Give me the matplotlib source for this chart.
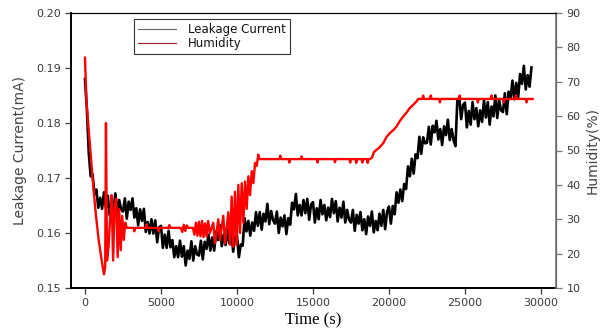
import numpy as np
import matplotlib
matplotlib.use("Agg")
import matplotlib.pyplot as plt
from matplotlib.lines import Line2D

# leakage current (mA), logged every 125 s
sample_step = 125
leak_current = [
    0.1880, 0.1825, 0.1745, 0.1703, 0.1707, 0.1670, 0.1679, 0.1646, 0.1664, 0.1644,
    0.1674, 0.1646, 0.1668, 0.1632, 0.1658, 0.1641, 0.1672, 0.1635, 0.1660, 0.1643,
    0.1639, 0.1663, 0.1626, 0.1657, 0.1642, 0.1663, 0.1628, 0.1645, 0.1614, 0.1643,
    0.1622, 0.1644, 0.1602, 0.1620, 0.1599, 0.1625, 0.1599, 0.1623, 0.1583, 0.1610,
    0.1613, 0.1573, 0.1597, 0.1573, 0.1604, 0.1574, 0.1587, 0.1556, 0.1576, 0.1556,
    0.1586, 0.1557, 0.1576, 0.1541, 0.1568, 0.1553, 0.1585, 0.1550, 0.1576, 0.1561,
    0.1559, 0.1586, 0.1552, 0.1584, 0.1571, 0.1597, 0.1568, 0.1592, 0.1568, 0.1603,
    0.1587, 0.1614, 0.1576, 0.1597, 0.1578, 0.1606, 0.1581, 0.1606, 0.1566, 0.1593,
    0.1596, 0.1556, 0.1579, 0.1577, 0.1627, 0.1603, 0.1622, 0.1595, 0.1619, 0.1604,
    0.1638, 0.1613, 0.1638, 0.1606, 0.1635, 0.1621, 0.1653, 0.1616, 0.1640, 0.1623,
    0.1617, 0.1639, 0.1600, 0.1628, 0.1612, 0.1632, 0.1598, 0.1627, 0.1615, 0.1655,
    0.1643, 0.1671, 0.1632, 0.1651, 0.1632, 0.1660, 0.1636, 0.1662, 0.1624, 0.1652,
    0.1656, 0.1619, 0.1645, 0.1625, 0.1660, 0.1634, 0.1651, 0.1623, 0.1646, 0.1629,
    0.1662, 0.1636, 0.1658, 0.1621, 0.1646, 0.1628, 0.1657, 0.1619, 0.1642, 0.1624,
    0.1619, 0.1642, 0.1604, 0.1633, 0.1617, 0.1638, 0.1605, 0.1625, 0.1598, 0.1630,
    0.1613, 0.1639, 0.1601, 0.1622, 0.1605, 0.1635, 0.1613, 0.1642, 0.1607, 0.1639,
    0.1648, 0.1617, 0.1649, 0.1634, 0.1674, 0.1655, 0.1679, 0.1658, 0.1689, 0.1680,
    0.1721, 0.1703, 0.1735, 0.1708, 0.1743, 0.1736, 0.1775, 0.1744, 0.1774, 0.1763,
    0.1764, 0.1793, 0.1761, 0.1795, 0.1783, 0.1804, 0.1770, 0.1789, 0.1760, 0.1794,
    0.1778, 0.1806, 0.1769, 0.1789, 0.1769, 0.1758, 0.1842, 0.1846, 0.1807, 0.1833,
    0.1837, 0.1792, 0.1822, 0.1797, 0.1838, 0.1807, 0.1827, 0.1794, 0.1823, 0.1802,
    0.1842, 0.1810, 0.1838, 0.1797, 0.1830, 0.1812, 0.1850, 0.1809, 0.1841, 0.1823,
    0.1820, 0.1854, 0.1816, 0.1857, 0.1844, 0.1877, 0.1843, 0.1873, 0.1846, 0.1889,
    0.1871, 0.1904, 0.1861, 0.1887, 0.1866, 0.1901,
]
leak_time = np.arange(len(leak_current)) * sample_step

# relative humidity (%)
hum_time = [
    0, 100, 300, 500, 700, 900, 1100, 1250, 1330, 1380, 1450, 1550, 1650, 1750,
    1850, 1950, 2050, 2150, 2250, 2350, 2450, 2550, 2650, 2750,
    3200, 3250, 3300, 4000, 4050, 4100, 4800, 4850, 4900, 5500, 5550, 5600,
    6300, 6400, 6500, 6600, 6700, 6800, 7100, 7200, 7300, 7400, 7500, 7600,
    7700, 7800, 7900, 8000, 8100, 8220, 8440, 8550, 8770, 8880, 9100, 9210,
    9430, 9540, 9650, 9760, 9870, 9980, 10090, 10200, 10310, 10420, 10530,
    10640, 10750, 10860, 10970, 11080, 11190, 11300, 11400, 11450,
    12800, 12850, 12900, 13400, 13450, 13500, 14200, 14250, 14300,
    15250, 15300, 15350, 16400, 16450, 16500, 17400, 17450, 17500, 17800,
    17850, 17900, 18200, 18250, 18300, 18550, 18600, 18650, 18750,
    18900, 19000, 19190, 19400, 19630, 19850, 20070, 20300, 20500, 20700,
    20940, 21150, 21380, 21600, 21820, 21930,
    22200, 22250, 22300, 22700, 22750, 22800, 23300, 23350, 23400, 24600,
    24650, 24700, 25800, 25850, 25900, 26700, 26750, 26800, 27500, 27550,
    27600, 28300, 28350, 28400, 29000, 29050, 29100, 29450,
]
hum_value = [
    77, 64, 53, 42, 32, 24, 18, 14, 16, 58, 18, 22, 30, 37,
    18, 34, 36, 19, 33, 21, 31, 24, 29, 27.5,
    27.5, 26.5, 27.5, 27.5, 28.5, 27.5, 27.5, 26.5, 27.5, 27.5, 28.3, 27.5,
    27.5, 26.3, 28.4, 26.6, 28.2, 27.5, 27.5, 25.5, 29.0, 25.2, 29.3, 25.0,
    29.5, 24.8, 28.8, 25.0, 29.5, 26, 29, 23, 30, 24, 31, 23,
    32, 22.6, 36.6, 22, 38, 22.6, 40, 26, 40.5, 29, 41,
    33, 42.5, 37, 44, 40.5, 46.4, 45.5, 48.8, 47.5,
    47.5, 48.5, 47.5, 47.5, 46.5, 47.5, 47.5, 48.3, 47.5,
    47.5, 46.5, 47.5, 47.5, 46.6, 47.5, 47.5, 46.5, 47.5, 47.5,
    46.4, 47.5, 47.5, 46.5, 47.5, 47.5, 46.4, 47.5, 47.5,
    48.0, 49.5, 50.2, 51, 52.2, 54, 55.1, 56, 57, 58.5,
    59.9, 61, 62.4, 63.3, 64.3, 65,
    65, 66, 65, 65, 66, 65, 65, 64, 65, 65,
    66, 65, 65, 64, 65, 65, 66, 65, 65, 64,
    65, 65, 66, 65, 65, 64, 65, 65,
]

x_ticks = [0, 5000, 10000, 15000, 20000, 25000, 30000]
left_ticks = [0.15, 0.16, 0.17, 0.18, 0.19, 0.20]
right_ticks = [10, 20, 30, 40, 50, 60, 70, 80, 90]

tick_col = "#3a3a3a"

fig = plt.figure(figsize=(6, 3.35), dpi=100)
ax = fig.add_axes([71 / 600, 47 / 335, 485 / 600, 275 / 335])
ax2 = ax.twinx()

ax.plot(leak_time, leak_current, color="black", lw=1.9)
ax2.plot(hum_time, hum_value, color="#ff0000", lw=1.7)

ax.set_xlim(-920, 30990)
ax.set_ylim(0.15, 0.20)
ax2.set_ylim(10, 90)

ax.set_xticks(x_ticks)
ax.set_xticklabels([str(v) for v in x_ticks])
ax.set_yticks(left_ticks)
ax.set_yticklabels(["%.2f" % v for v in left_ticks])
ax2.set_yticks(right_ticks)

for a in (ax, ax2):
    a.tick_params(direction="out", length=4, width=0.9, labelsize=8,
                  labelcolor=tick_col, color=tick_col)
ax2.tick_params(axis="y", color="#777777")

ax.spines["left"].set_linewidth(1.4)
ax.spines["bottom"].set_linewidth(1.4)
ax.spines["top"].set_linewidth(0.8)
ax2.spines["left"].set_visible(False)
ax2.spines["bottom"].set_visible(False)
ax2.spines["top"].set_linewidth(0.8)
ax2.spines["right"].set_color("#777777")
ax2.spines["right"].set_linewidth(1.2)

ax.set_ylabel("Leakage Current(mA)", fontsize=10, color="#444444", labelpad=6)
ax2.set_ylabel("Humidity(%)", fontsize=10, color="#444444", labelpad=4)
ax.set_xlabel("Time (s)", fontsize=12, family="Liberation Serif", labelpad=3)

handles = [Line2D([], [], color="#666666", lw=0.8),
           Line2D([], [], color="#a0202c", lw=0.8)]
leg = ax2.legend(handles, ["Leakage Current", "Humidity"], loc="upper left",
                 fontsize=8.5, frameon=True, fancybox=False, handlelength=3.2,
                 borderpad=0.35, labelspacing=0.05, handletextpad=1.0,
                 borderaxespad=0)
leg.get_frame().set_edgecolor("black")
leg.get_frame().set_linewidth(0.8)
leg.get_frame().set_boxstyle("square", pad=0.0)
for t in leg.get_texts():
    t.set_color("#111111")
leg.set_bbox_to_anchor((0.13, 0.978), transform=ax.transAxes)

fig.savefig("out.png", dpi=100)
